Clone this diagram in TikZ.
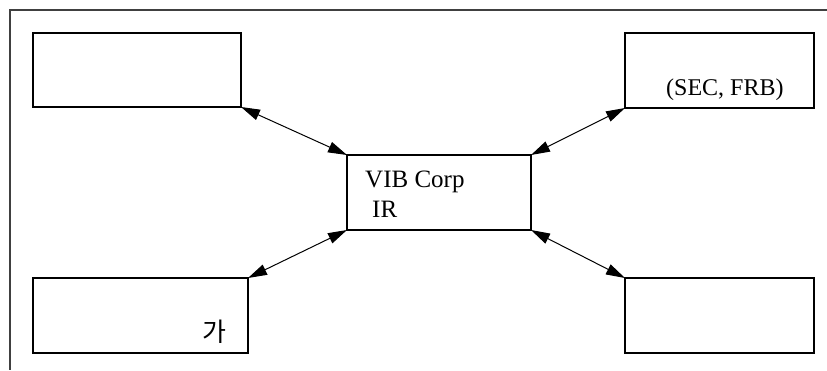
\documentclass[tikz,border=0pt]{standalone}
\usepackage{fontspec}
\setmainfont{Liberation Serif}
\newfontfamily\krfont{Noto Sans CJK KR}
\usetikzlibrary{arrows.meta}
\begin{document}
\begin{tikzpicture}[x=1pt,y=-1pt,
  box/.style={draw=black,line width=1.1pt,inner sep=0pt,outer sep=0pt,anchor=north west},
  lbl/.style={anchor=base west,inner sep=0pt,font=\fontsize{24}{29}\selectfont},
  link/.style={line width=1pt,{Triangle[length=19pt,width=11pt]}-{Triangle[length=19pt,width=11pt]}}]
\useasboundingbox (0,0) rectangle (827,370);
\draw[line width=1.2pt,black!75] (827,10) -- (10,10) -- (10,370);
\node[box,minimum width=208pt,minimum height=74pt] (tl) at (33,33) {};
\node[box,minimum width=189pt,minimum height=75pt] (tr) at (625,33) {};
\node[box,minimum width=215pt,minimum height=75pt] (bl) at (33,278) {};
\node[box,minimum width=189pt,minimum height=75pt] (br) at (625,278) {};
\node[box,minimum width=184pt,minimum height=75pt] (c) at (347,155) {};
\node[lbl,font=\fontsize{25}{29}\selectfont] (t1) at (365,187) {VIB Corp};
\node[lbl,font=\fontsize{25}{29}\selectfont] (t2) at (372,217) {IR};
\node[lbl] (t3) at (666,95) {(SEC, FRB)};
\node[lbl,font=\krfont\fontsize{26}{30}\selectfont] (t4) at (202,341) {가};
\draw[link] (tl.south east) -- (c.north west);
\draw[link] (tr.south west) -- (c.north east);
\draw[link] (bl.north east) -- (c.south west);
\draw[link] (br.north west) -- (c.south east);
\end{tikzpicture}
\end{document}
